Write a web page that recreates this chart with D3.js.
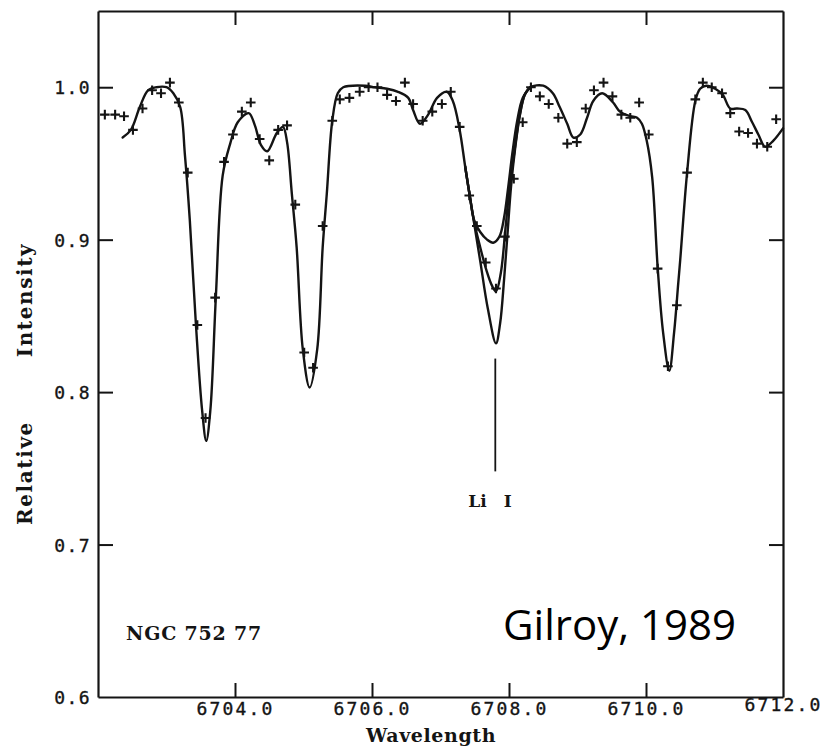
<!DOCTYPE html>
<html>
<head>
<meta charset="utf-8">
<script src="https://cdn.jsdelivr.net/npm/d3@7/dist/d3.min.js"></script>
<style>
  html, body { margin: 0; padding: 0; background: #fff; }
  svg { display: block; }
</style>
</head>
<body>
<svg id="chart" width="826" height="748"></svg>
<script>
// Li I 6707.8 region, NGC 752 star 77: observed points and synthetic fits.

// Tick values
const xTicks = [6704, 6706, 6708, 6710, 6712];
const xTopTicks = [6704, 6706, 6708, 6710];
const yTicks = [0.6, 0.7, 0.8, 0.9, 1.0];

// Observed spectrum (wavelength, relative intensity)
const observed = [
  [6702.10,0.982],[6702.25,0.982],[6702.38,0.981],[6702.51,0.972],[6702.65,0.986],
  [6702.79,0.998],[6702.92,0.996],[6703.05,1.003],[6703.18,0.990],[6703.31,0.944],
  [6703.45,0.844],[6703.57,0.783],[6703.71,0.862],[6703.84,0.951],[6703.97,0.969],
  [6704.10,0.984],[6704.23,0.990],[6704.36,0.966],[6704.50,0.952],[6704.63,0.972],
  [6704.76,0.975],[6704.88,0.923],[6705.01,0.826],[6705.14,0.816],[6705.28,0.909],
  [6705.42,0.978],[6705.53,0.992],[6705.67,0.993],[6705.82,0.997],[6705.95,1.000],
  [6706.08,1.000],[6706.22,0.995],[6706.35,0.991],[6706.48,1.003],[6706.60,0.989],
  [6706.74,0.978],[6706.88,0.984],[6707.02,0.989],[6707.15,0.997],[6707.28,0.974],
  [6707.42,0.929],[6707.53,0.909],[6707.66,0.885],[6707.81,0.868],[6707.94,0.902],
  [6708.07,0.940],[6708.20,0.977],[6708.32,1.000],[6708.45,0.994],[6708.58,0.989],
  [6708.72,0.980],[6708.85,0.963],[6708.99,0.964],[6709.12,0.986],[6709.24,0.998],
  [6709.38,1.003],[6709.51,0.994],[6709.64,0.982],[6709.77,0.980],[6709.90,0.990],
  [6710.04,0.969],[6710.17,0.881],[6710.32,0.817],[6710.45,0.857],[6710.60,0.944],
  [6710.72,0.992],[6710.83,1.003],[6710.96,1.000],[6711.11,0.996],[6711.23,0.983],
  [6711.36,0.971],[6711.49,0.970],[6711.62,0.963],[6711.77,0.961],[6711.90,0.979]
];

// Synthetic spectrum, strongest Li abundance
const fitMain = [
  [6702.36,0.967],[6702.48,0.972],[6702.61,0.987],[6702.73,0.998],[6702.85,1.000],
  [6703.00,1.000],[6703.10,0.996],[6703.20,0.987],[6703.27,0.955],[6703.34,0.913],
  [6703.43,0.844],[6703.52,0.788],[6703.58,0.768],[6703.64,0.788],[6703.72,0.862],
  [6703.82,0.942],[6703.93,0.963],[6704.04,0.977],[6704.20,0.983],[6704.29,0.975],
  [6704.38,0.962],[6704.47,0.958],[6704.61,0.970],[6704.70,0.974],[6704.76,0.964],
  [6704.83,0.930],[6704.90,0.895],[6704.99,0.828],[6705.09,0.803],[6705.20,0.828],
  [6705.28,0.895],[6705.34,0.930],[6705.42,0.978],[6705.50,0.996],[6705.58,1.000],
  [6705.90,1.001],[6706.04,1.000],[6706.22,0.999],[6706.38,0.997],[6706.53,0.993],
  [6706.60,0.985],[6706.70,0.976],[6706.82,0.982],[6706.95,0.993],[6707.09,0.997],
  [6707.18,0.991],[6707.28,0.972],[6707.36,0.948],[6707.43,0.928],[6707.49,0.911],
  [6707.58,0.886],[6707.69,0.855],[6707.81,0.832],[6707.87,0.845],[6707.93,0.875],
  [6707.98,0.905],[6708.03,0.935],[6708.09,0.960],[6708.16,0.982],[6708.23,0.995],
  [6708.31,1.000],[6708.50,1.001],[6708.64,0.996],[6708.74,0.987],[6708.85,0.976],
  [6708.94,0.967],[6709.04,0.969],[6709.14,0.980],[6709.23,0.991],[6709.36,0.996],
  [6709.52,0.990],[6709.62,0.984],[6709.77,0.981],[6709.87,0.980],[6709.94,0.976],
  [6710.01,0.965],[6710.09,0.941],[6710.17,0.882],[6710.25,0.839],[6710.34,0.814],
  [6710.41,0.839],[6710.47,0.871],[6710.50,0.887],[6710.60,0.944],[6710.72,0.991],
  [6710.79,0.999],[6710.88,1.001],[6711.01,0.999],[6711.12,0.995],[6711.23,0.986],
  [6711.33,0.986],[6711.45,0.985],[6711.55,0.977],[6711.64,0.969],[6711.74,0.961],
  [6711.86,0.965],[6712.00,0.973]
];

// Synthetic Li I profiles for the two lower abundances
const fitLiMid = [
  [6707.36,0.948],[6707.43,0.928],[6707.49,0.912],[6707.58,0.895],[6707.67,0.880],
  [6707.75,0.870],[6707.81,0.866],[6707.88,0.878],[6707.95,0.908],[6708.01,0.935],
  [6708.08,0.958],[6708.15,0.980],[6708.23,0.995],[6708.31,1.000]
];
const fitLiLow = [
  [6707.36,0.948],[6707.43,0.928],[6707.49,0.913],[6707.58,0.905],[6707.68,0.900],
  [6707.77,0.898],[6707.86,0.902],[6707.93,0.915],[6707.99,0.935],[6708.05,0.957],
  [6708.12,0.978],[6708.20,0.993],[6708.31,1.000]
];

// Li I line marker: wavelength and the intensity span of the vertical bar
const liMarker = { wl: 6707.8, top: 0.822, bottom: 0.748 };

const ink = "#141414";
const svg = d3.select("#chart");

const x = d3.scaleLinear().domain([6702, 6712]).range([98, 783]);
const y = d3.scaleLinear().domain([0.6, 1.05]).range([697, 11]);

// Axes (ticks point inward on all four sides)
const fmtX = d3.format(".1f");
const fmtY = d3.format(".1f");

const gBottom = svg.append("g").attr("transform", `translate(0,${y(0.6)})`)
  .call(d3.axisBottom(x).tickValues(xTicks).tickSize(-14).tickSizeOuter(0).tickPadding(8).tickFormat(fmtX));
const gTop = svg.append("g").attr("transform", `translate(0,${y(1.05)})`)
  .call(d3.axisTop(x).tickValues(xTopTicks).tickSize(-14).tickSizeOuter(0).tickFormat(""));
const gLeft = svg.append("g").attr("transform", `translate(${x(6702)},0)`)
  .call(d3.axisLeft(y).tickValues(yTicks).tickSize(-15).tickSizeOuter(0).tickPadding(7).tickFormat(fmtY));
const gRight = svg.append("g").attr("transform", `translate(${x(6712)},0)`)
  .call(d3.axisRight(y).tickValues(yTicks.slice(1)).tickSize(-14).tickSizeOuter(0).tickFormat(""));

[gBottom, gTop, gLeft, gRight].forEach(g => {
  g.select(".domain").attr("stroke", ink).attr("stroke-width", 2.2);
  g.selectAll(".tick line").attr("stroke", ink).attr("stroke-width", 2);
});

const mono = "'DejaVu Sans Mono', monospace";

gBottom.selectAll(".tick text")
  .attr("fill", ink)
  .attr("stroke", ink).attr("stroke-width", 0.35)
  .style("font-family", mono)
  .style("font-size", "18px")
  .style("letter-spacing", "2.2px")
  .attr("dy", "0.55em")
  .filter(d => d === 6712).attr("dy", "0.35em");
gBottom.selectAll(".tick").filter(d => d === 6712).select("line").remove();

gLeft.selectAll(".tick text")
  .attr("fill", ink)
  .attr("stroke", ink).attr("stroke-width", 0.35)
  .style("font-family", mono)
  .style("font-size", "18px")
  .style("letter-spacing", "1.4px")
  .attr("dy", "0.36em");
gLeft.selectAll(".tick").filter(d => d === 0.6).select("line").remove();

// Fitted curves
const line = d3.line()
  .x(d => x(d[0]))
  .y(d => y(d[1]))
  .curve(d3.curveCatmullRom.alpha(0.5));

const curves = svg.append("g")
  .attr("fill", "none")
  .attr("stroke", ink)
  .attr("stroke-width", 2.4)
  .attr("stroke-linejoin", "round")
  .attr("stroke-linecap", "round");

[fitMain, fitLiMid, fitLiLow].forEach(series => {
  curves.append("path").attr("d", line(series));
});

// Observed points as crosses
const arm = 4.8;
svg.append("g")
  .attr("stroke", ink)
  .attr("stroke-width", 2.1)
  .selectAll("path")
  .data(observed)
  .join("path")
  .attr("transform", d => `translate(${x(d[0])},${y(d[1])})`)
  .attr("d", `M${-arm},0H${arm}M0,${-arm}V${arm}`);

// Li I marker
svg.append("line")
  .attr("x1", x(liMarker.wl)).attr("x2", x(liMarker.wl))
  .attr("y1", y(liMarker.top)).attr("y2", y(liMarker.bottom))
  .attr("stroke", ink).attr("stroke-width", 1.8);

const serif = "'DejaVu Serif', 'Liberation Serif', serif";

svg.append("text")
  .attr("x", x(liMarker.wl) - 27).attr("y", 507)
  .attr("fill", ink)
  .style("font-family", serif).style("font-weight", "bold")
  .style("font-size", "17px").style("word-spacing", "11px")
  .text("Li I");

// Axis titles
svg.append("text")
  .attr("x", 431).attr("y", 742)
  .attr("text-anchor", "middle")
  .attr("fill", ink)
  .style("font-family", serif).style("font-weight", "bold")
  .style("font-size", "19px").style("letter-spacing", "0.6px")
  .text("Wavelength");

svg.append("text")
  .attr("transform", "translate(32,300) rotate(-90)")
  .attr("text-anchor", "middle")
  .attr("fill", ink)
  .style("font-family", serif).style("font-weight", "bold")
  .style("font-size", "20px").style("letter-spacing", "1.6px")
  .text("Intensity");

svg.append("text")
  .attr("transform", "translate(32,473) rotate(-90)")
  .attr("text-anchor", "middle")
  .attr("fill", ink)
  .style("font-family", serif).style("font-weight", "bold")
  .style("font-size", "20px").style("letter-spacing", "1.6px")
  .text("Relative");

// Star label
svg.append("text")
  .attr("x", 126).attr("y", 640)
  .attr("fill", ink)
  .style("font-family", serif).style("font-weight", "bold")
  .style("font-size", "19px").style("letter-spacing", "0.8px")
  .text("NGC 752 77");

// Source note
svg.append("text")
  .attr("x", 503).attr("y", 640)
  .attr("fill", "#000")
  .style("font-family", "'Open Sans', Lato, sans-serif")
  .style("font-size", "42px")
  .text("Gilroy, 1989");
</script>
</body>
</html>
